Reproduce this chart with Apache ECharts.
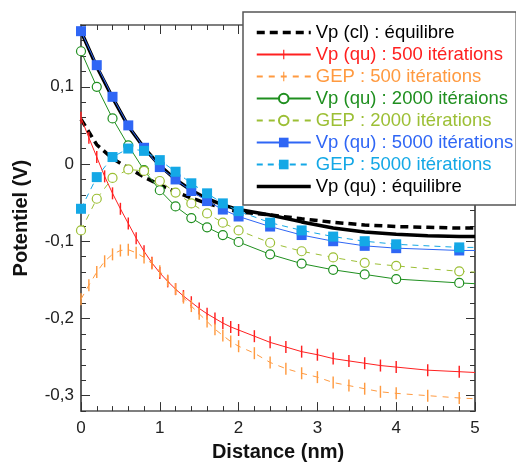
<!DOCTYPE html>
<html><head><meta charset="utf-8">
<script src="https://cdn.jsdelivr.net/npm/echarts@6/dist/echarts.min.js"></script>
<style>html,body{margin:0;padding:0;background:#fff}#c{width:516px;height:467px}</style>
</head><body><div id="c"></div>
<script>
// ---- data ----
const xDense = [0,0.1,0.2,0.3,0.4,0.5,0.6,0.7,0.8,0.9,1.0,1.1,1.2,1.3,1.4,1.5,1.6,1.7,1.8,1.9,2.0,2.2,2.4,2.6,2.8,3.0,3.2,3.4,3.6,3.8,4.0,4.4,4.8,5.0];
const vpQu500 = [0.060,0.034,0.009,-0.016,-0.038,-0.058,-0.077,-0.096,-0.113,-0.128,-0.141,-0.152,-0.162,-0.171,-0.179,-0.187,-0.194,-0.200,-0.206,-0.211,-0.215,-0.223,-0.231,-0.237,-0.243,-0.247,-0.252,-0.255,-0.258,-0.261,-0.263,-0.267,-0.269,-0.270];
const gep500 = [-0.175,-0.157,-0.140,-0.126,-0.117,-0.112,-0.111,-0.115,-0.121,-0.129,-0.139,-0.151,-0.162,-0.173,-0.184,-0.194,-0.204,-0.214,-0.222,-0.230,-0.236,-0.245,-0.257,-0.265,-0.271,-0.276,-0.283,-0.287,-0.291,-0.295,-0.297,-0.300,-0.303,-0.304];
const xSparse = [0,0.2,0.4,0.6,0.8,1.0,1.2,1.4,1.6,1.8,2.0,2.4,2.8,3.2,3.6,4.0,4.8,5.0];
const vpQu2000 = [0.146,0.100,0.059,0.024,-0.008,-0.034,-0.055,-0.070,-0.082,-0.092,-0.101,-0.117,-0.129,-0.137,-0.143,-0.149,-0.154,-0.155];
const gep2000 = [-0.086,-0.045,-0.018,-0.007,-0.009,-0.022,-0.037,-0.051,-0.064,-0.076,-0.086,-0.102,-0.113,-0.121,-0.128,-0.132,-0.139,-0.140];
const vpQu5000 = [0.172,0.128,0.087,0.050,0.021,-0.004,-0.020,-0.035,-0.048,-0.059,-0.068,-0.081,-0.092,-0.100,-0.106,-0.109,-0.112,-0.112];
const gep5000 = [-0.058,-0.017,0.009,0.020,0.017,0.005,-0.010,-0.025,-0.038,-0.051,-0.061,-0.076,-0.086,-0.094,-0.100,-0.104,-0.108,-0.108];
const xEq = [0,0.2,0.4,0.6,0.8,1.0,1.2,1.4,1.6,1.8,2.0,2.4,2.8,3.2,3.6,4.0,4.4,4.8,5.0];
const vpClEq = [0.058,0.025,0.007,-0.005,-0.017,-0.027,-0.036,-0.044,-0.051,-0.057,-0.062,-0.066,-0.071,-0.0755,-0.079,-0.081,-0.082,-0.083,-0.083];
const vpQuEq = [0.172,0.126,0.086,0.049,0.021,-0.002,-0.020,-0.034,-0.045,-0.053,-0.059,-0.066,-0.075,-0.083,-0.088,-0.091,-0.093,-0.094,-0.094];
const yTickValues = [-0.3,-0.2,-0.1,0,0.1];
const seriesNames = ['Vp (cl) : équilibre','Vp (qu) : 500 itérations','GEP : 500 itérations','Vp (qu) : 2000 itéraions','GEP : 2000 itérations','Vp (qu) : 5000 itérations','GEP : 5000 itérations','Vp (qu) : équilibre'];
const seriesColors = ['#000000','#ff2020','#ff9a40','#1f8f1f','#9cbf35','#2f66f5','#14a8e6','#000000'];

// ---- helpers ----
function pts(xs, ys, hideLast){
  return xs.map((x,i)=> (hideLast && i===xs.length-1) ? {value:[x,ys[i]], symbol:'none'} : [x,ys[i]]);
}
const FONT = 'Liberation Sans, Arial, sans-serif';
// thin vertical bar centred in a square bounding box
const bar = 'path://M0,0L0,0M4.4,0h1.2v10h-1.2zM10,10L10,10';

const chart = echarts.init(document.getElementById('c'), null, {renderer:'canvas'});
const axLine = {show:true, onZero:false, lineStyle:{color:'#555', width:1.5}};
const fmt = v => (Math.abs(v)<1e-9 ? '0' : String(+v.toFixed(1)).replace('.',','));

const series = [
  {name:seriesNames[0], type:'line', data:pts(xEq,vpClEq,false), symbol:'none', z:2,
   lineStyle:{color:seriesColors[0], width:3.5, type:[8,5]}, itemStyle:{color:seriesColors[0]}},
  {name:seriesNames[1], type:'line', data:pts(xDense,vpQu500,true), symbol:bar, symbolSize:12, z:3,
   lineStyle:{color:seriesColors[1], width:1}, itemStyle:{color:seriesColors[1], borderWidth:0}},
  {name:seriesNames[2], type:'line', data:pts(xDense,gep500,true), symbol:bar, symbolSize:12, z:3,
   lineStyle:{color:seriesColors[2], width:1, type:[6,6]}, itemStyle:{color:seriesColors[2], borderWidth:0}},
  {name:seriesNames[3], type:'line', data:pts(xSparse,vpQu2000,true), symbol:'circle', symbolSize:9, z:3,
   lineStyle:{color:seriesColors[3], width:1}, itemStyle:{color:'#fff', borderColor:seriesColors[3], borderWidth:1.2}},
  {name:seriesNames[4], type:'line', data:pts(xSparse,gep2000,true), symbol:'circle', symbolSize:9, z:3,
   lineStyle:{color:seriesColors[4], width:1, type:[6,6]}, itemStyle:{color:'#fff', borderColor:seriesColors[4], borderWidth:1.2}},
  {name:seriesNames[5], type:'line', data:pts(xSparse,vpQu5000,true), symbol:'rect', symbolSize:10, z:4,
   lineStyle:{color:seriesColors[5], width:1}, itemStyle:{color:seriesColors[5], borderWidth:0}},
  {name:seriesNames[6], type:'line', data:pts(xSparse,gep5000,true), symbol:'rect', symbolSize:10, z:5,
   lineStyle:{color:seriesColors[6], width:1, type:[6,5]}, itemStyle:{color:seriesColors[6], borderWidth:0}},
  {name:seriesNames[7], type:'line', data:pts(xEq,vpQuEq,false), symbol:'none', z:2,
   lineStyle:{color:seriesColors[7], width:3.5}, itemStyle:{color:seriesColors[7]}}
];

const yBase = {type:'value', min:-0.32, max:0.18, splitLine:{show:false}, axisLine:axLine};
const option = {
  animation:false,
  backgroundColor:'#fff',
  textStyle:{fontFamily:FONT},
  grid:{left:81, top:25, width:394, height:394, containLabel:false},
  xAxis:[
    {type:'value', position:'bottom', min:0, max:5, interval:1, splitLine:{show:false}, axisLine:axLine,
     axisTick:{inside:true, length:9, lineStyle:{color:'#333'}},
     minorTick:{show:true, splitNumber:5, length:5, lineStyle:{color:'#333'}},
     axisLabel:{fontSize:17, color:'#222', margin:9, fontFamily:FONT},
     name:'Distance (nm)', nameLocation:'middle', nameGap:27,
     nameTextStyle:{fontSize:20, fontWeight:'bold', color:'#111', fontFamily:FONT}},
    {type:'value', position:'top', min:0, max:5, interval:1, splitLine:{show:false}, axisLine:axLine,
     axisTick:{inside:true, length:9, lineStyle:{color:'#333'}},
     minorTick:{show:true, splitNumber:5, length:5, lineStyle:{color:'#333'}},
     axisLabel:{show:false}}
  ],
  yAxis:[
    Object.assign({}, yBase, {position:'left',
      axisTick:{inside:true, length:9, customValues:yTickValues, lineStyle:{color:'#333'}},
      axisLabel:{customValues:yTickValues, formatter:fmt, fontSize:17, color:'#222', margin:7, fontFamily:FONT},
      name:'Potentiel (V)', nameLocation:'middle', nameGap:50, nameRotate:90,
      nameTextStyle:{fontSize:20, fontWeight:'bold', color:'#111', fontFamily:FONT}}),
    Object.assign({}, yBase, {position:'left', interval:0.02,
      axisTick:{inside:true, length:5, lineStyle:{color:'#333'}}, axisLabel:{show:false}}),
    Object.assign({}, yBase, {position:'right',
      axisTick:{inside:true, length:9, customValues:yTickValues, lineStyle:{color:'#333'}},
      axisLabel:{show:false}}),
    Object.assign({}, yBase, {position:'right', interval:0.02,
      axisTick:{inside:true, length:5, lineStyle:{color:'#333'}}, axisLabel:{show:false}})
  ],
  legend:{
    orient:'vertical', left:243, top:12, itemWidth:54, itemHeight:12, itemGap:3,
    padding:[11,3,9,12], backgroundColor:'#fff', borderColor:'#555', borderWidth:1.5, borderRadius:0,
    textStyle:{fontSize:18.5, fontFamily:FONT},
    data: seriesNames.map((n,i)=>{
      const d = {name:n, textStyle:{color:seriesColors[i]}};
      if (i===0) { d.itemStyle = {opacity:0}; d.lineStyle = {width:3.5, type:[8,5], color:'#000'}; }
      if (i===7) { d.itemStyle = {opacity:0}; d.lineStyle = {width:3.5, type:'solid', color:'#000'}; }
      return d;
    })
  },
  series: series
};
chart.setOption(option);
</script>
</body></html>
